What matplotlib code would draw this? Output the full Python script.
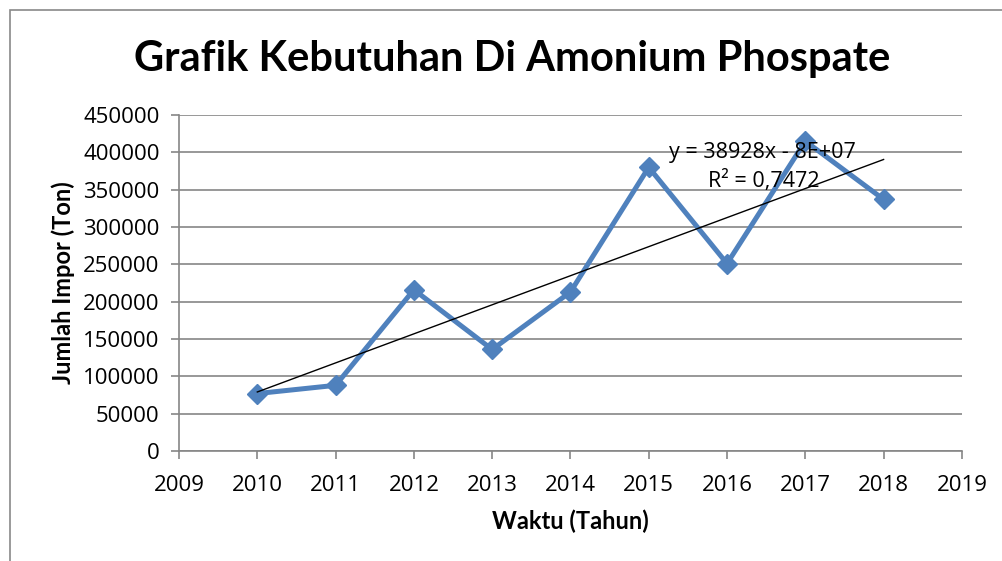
import numpy as np
import matplotlib.pyplot as plt
from matplotlib.patches import Rectangle

plt.rcParams['font.family'] = ['Open Sans', 'DejaVu Sans']

# data
tahun = [2010, 2011, 2012, 2013, 2014, 2015, 2016, 2017, 2018]
impor = [77000, 88000, 216000, 136000, 213000, 380000, 251000, 415000, 337000]
eq_text = 'y = 38928x - 8E+07'
r2_text = 'R² = 0,7472'

fig = plt.figure(figsize=(10.03, 5.61), dpi=100)
ax = fig.add_axes([0.1785, 0.196, 0.7805, 0.599])

# outer chart border
fig.patches.append(Rectangle((10 / 1003, -0.1), 1.2, (551 / 561) + 0.1,
                             transform=fig.transFigure, fill=False,
                             edgecolor='#898989', linewidth=1.2))

ax.plot(tahun, impor, color='#4F81BD', linewidth=3.6, marker='D',
        markersize=10, zorder=3)

# linear trendline
k, c = np.polyfit(tahun, impor, 1)
xt = np.array([tahun[0], tahun[-1]])
ax.plot(xt, k * xt + c, color='black', linewidth=1.0, zorder=4)

ax.text(2015.26, 400000, eq_text, fontsize=15.5, va='center', ha='left', zorder=5)
ax.text(2016.47, 361600, r2_text, fontsize=15.5, va='center', ha='center', zorder=5)

ax.set_xlim(2009, 2019)
ax.set_ylim(0, 450000)
ax.set_xticks(range(2009, 2020))
ax.set_yticks(range(0, 450001, 50000))
ax.tick_params(labelsize=16, direction='out', length=6, color='#868686', width=1.2)
ax.tick_params(axis='x', pad=11)
ax.tick_params(axis='y', pad=8)
ax.grid(axis='y', color='#868686', linewidth=1.2)
ax.set_axisbelow(True)
for s in ['top', 'right']:
    ax.spines[s].set_visible(False)
for s in ['left', 'bottom']:
    ax.spines[s].set_color('#868686')
    ax.spines[s].set_linewidth(1.2)

ax.set_xlabel('Waktu (Tahun)', fontsize=17, fontweight='bold', labelpad=10,
              family=['Lato', 'DejaVu Sans'])
ax.set_ylabel('Jumlah Impor (Ton)', fontsize=17, fontweight='bold', labelpad=6,
              family=['Lato', 'DejaVu Sans'])
fig.text(0.511, 0.895, 'Grafik Kebutuhan Di Amonium Phospate', fontsize=30,
         fontweight='bold', ha='center', va='center', family=['Lato', 'DejaVu Sans'])

fig.savefig('out.png', dpi=100)
